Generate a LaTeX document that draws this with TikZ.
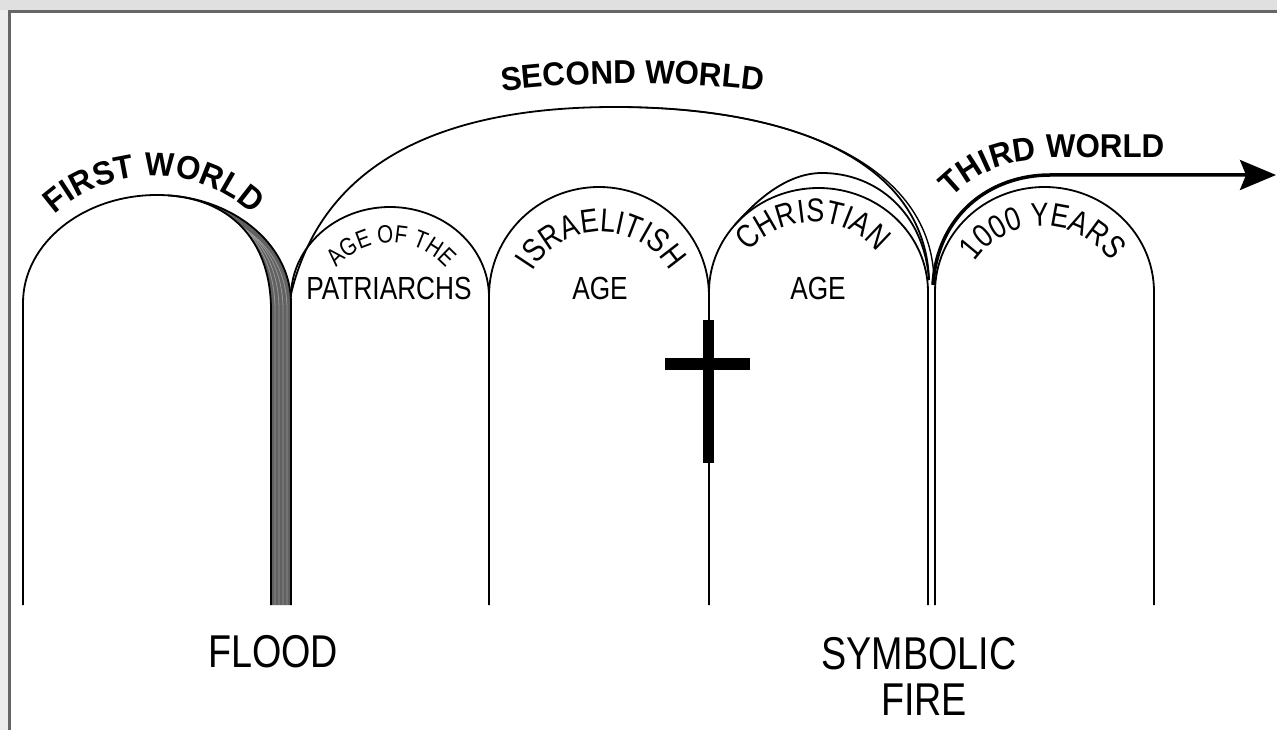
\documentclass[tikz,border=0pt]{standalone}
\usepackage{fontspec}
\newfontfamily\labn[FakeStretch=0.82]{Liberation Sans}
\newfontfamily\labb[FakeStretch=0.95]{Liberation Sans}
\usetikzlibrary{decorations.text,arrows.meta}
\begin{document}
\begin{tikzpicture}[x=1pt,y=-1pt,
  arch/.style={line width=1.8pt,black},
  lab/.style={inner sep=0pt,font={\labn\fontsize{32}{32}\selectfont}},
  biglab/.style={inner sep=0pt,font={\labn\fontsize{46}{46}\selectfont}},
  crossbar/.style={line width=12pt,black}]
\useasboundingbox (0,0) rectangle (1277,730);
% frame
\fill[black!12] (0,0) rectangle (1277,10);
\fill[black!7] (0,10) rectangle (8,730);
\draw[black!60,line width=3pt] (9.5,730) -- (9.5,12) -- (1277,12);
% flood band
\fill[black!62] (291,605) -- (291,303) arc[start angle=0,end angle=85.3,x radius=134pt,y radius=108pt]
  .. controls (235,200) and (271,245) .. (271,310) -- (271,605) -- cycle;
\begin{scope}
\clip (291,605) -- (291,303) arc[start angle=0,end angle=85.3,x radius=134pt,y radius=108pt]
  .. controls (235,200) and (271,245) .. (271,310) -- (271,605) -- cycle;
\foreach \d in {4,8,12,16}{
  \draw[black!40,line width=0.8pt] (168+\d*0.2,196+\d*0.3) .. controls (235+\d*0.3,200+\d) and (271+\d,245) .. (271+\d,310) -- (271+\d,605);
}
\end{scope}
\draw[arch] (168,195.4) .. controls (235,200) and (271,245) .. (271,310) -- (271,605);
% first world arch
\draw[arch] (23,605) -- (23,303) arc[start angle=180,end angle=0,x radius=134pt,y radius=108pt] -- (291,605);
% second world big arch
\draw[arch] (291,294) .. controls (328,140) and (480,107) .. (615,107) .. controls (790,107) and (925,160) .. (929,280);
\draw[arch,line width=1.4pt] (615,107) .. controls (795,107) and (933,165) .. (934,282);
% patriarchs
\draw[arch] (291,297) arc[start angle=180,end angle=0,x radius=99pt,y radius=90pt];
% israelitish
\draw[arch] (489,605) -- (489,296) arc[start angle=180,end angle=0,x radius=110pt,y radius=109pt] -- (709,605);
% christian
\draw[arch] (709,292) arc[start angle=180,end angle=0,x radius=109.5pt,y radius=104pt] -- (928,605);
\draw[arch] (734.6,225.1) .. controls (754,203) and (785,173) .. (822,173) .. controls (876,173) and (924,212) .. (929,280);
% 1000 years
\draw[arch] (935,605) -- (935,292) arc[start angle=180,end angle=0,x radius=109.5pt,y radius=105pt] -- (1154,605);
% third world arrow
\coordinate (twstart) at (933,285);
\coordinate (twend) at (1276,175);
\draw[line width=3.5pt,-{Stealth[length=36pt,width=30pt,inset=6pt]}] (twstart) .. controls (937,215) and (990,175) .. (1050,175) -- (twend);
% cross
\draw[crossbar,line width=11pt] (708.5,320) -- (708.5,463);
\draw[crossbar] (665,364) -- (750,364);
% curved labels
\path[decorate,decoration={text along path,text align=center,text={|\labb\bfseries\fontsize{33}{33}\selectfont|FIRST WORLD}}]
  (7,323) arc[start angle=180,end angle=0,radius=147pt];
\path[decorate,decoration={text along path,text align=center,text={|\labb\bfseries\fontsize{33}{33}\selectfont|SECOND WORLD}}]
  (470,96) .. controls (575,79) and (690,79) .. (795,96);
\path[decorate,decoration={text along path,text align=left,text={|\labb\bfseries\fontsize{33}{33}\selectfont|THIRD WORLD}}]
  (952,198) .. controls (982,168) and (1010,160) .. (1060,158) -- (1220,158);
\path[decorate,decoration={text along path,text align=center,text={|\labn\fontsize{25}{25}\selectfont|AGE OF THE}}]
  (319,315) arc[start angle=180,end angle=0,radius=72pt];
\path[decorate,decoration={text along path,text align=center,text={|\labn\fontsize{33}{33}\selectfont|ISRAELITISH}}]
  (521,312) arc[start angle=180,end angle=0,radius=80pt];
\path[decorate,decoration={text along path,text align=center,text={|\labn\fontsize{33}{33}\selectfont|CHRISTIAN}}]
  (730,305) arc[start angle=180,end angle=0,radius=83pt];
\path[decorate,decoration={text along path,text align=center,text={|\labn\fontsize{33}{33}\selectfont|1000 YEARS}}]
  (961,308) arc[start angle=180,end angle=0,radius=82pt];
% straight labels
\node[lab] (patr) at (389,288) {PATRIARCHS};
\node[lab] (isage) at (600,288) {AGE};
\node[lab] (chage) at (818,288) {AGE};
\node[biglab] (flood) at (273,652) {FLOOD};
\node[biglab] (symb) at (919,654) {SYMBOLIC};
\node[biglab] (fire) at (924,700) {FIRE};
\end{tikzpicture}
\end{document}
